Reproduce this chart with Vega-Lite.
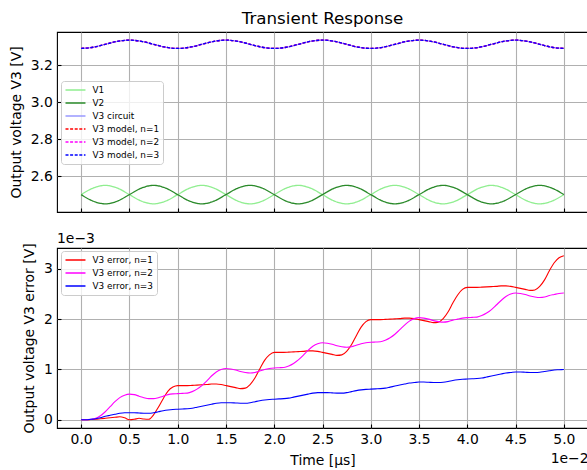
{
  "$schema": "https://vega.github.io/schema/vega-lite/v6.json",
  "padding": {"left": 8, "top": 10, "right": 0, "bottom": 0},
  "spacing": 17,
  "resolve": {
    "scale": {"color": "independent", "strokeDash": "independent"},
    "legend": {"color": "independent", "strokeDash": "independent"}
  },
  "datasets": {
    "volt": [
      {"s":"V1","t":0,"v":2.5},{"s":"V1","t":0.125,"v":2.5354},{"s":"V1","t":0.25,"v":2.55},{"s":"V1","t":0.375,"v":2.5354},{"s":"V1","t":0.5,"v":2.5},{"s":"V1","t":0.625,"v":2.4646},{"s":"V1","t":0.75,"v":2.45},{"s":"V1","t":0.875,"v":2.4646},
      {"s":"V1","t":1,"v":2.5},{"s":"V1","t":1.125,"v":2.5354},{"s":"V1","t":1.25,"v":2.55},{"s":"V1","t":1.375,"v":2.5354},{"s":"V1","t":1.5,"v":2.5},{"s":"V1","t":1.625,"v":2.4646},{"s":"V1","t":1.75,"v":2.45},{"s":"V1","t":1.875,"v":2.4646},
      {"s":"V1","t":2,"v":2.5},{"s":"V1","t":2.125,"v":2.5354},{"s":"V1","t":2.25,"v":2.55},{"s":"V1","t":2.375,"v":2.5354},{"s":"V1","t":2.5,"v":2.5},{"s":"V1","t":2.625,"v":2.4646},{"s":"V1","t":2.75,"v":2.45},{"s":"V1","t":2.875,"v":2.4646},
      {"s":"V1","t":3,"v":2.5},{"s":"V1","t":3.125,"v":2.5354},{"s":"V1","t":3.25,"v":2.55},{"s":"V1","t":3.375,"v":2.5354},{"s":"V1","t":3.5,"v":2.5},{"s":"V1","t":3.625,"v":2.4646},{"s":"V1","t":3.75,"v":2.45},{"s":"V1","t":3.875,"v":2.4646},
      {"s":"V1","t":4,"v":2.5},{"s":"V1","t":4.125,"v":2.5354},{"s":"V1","t":4.25,"v":2.55},{"s":"V1","t":4.375,"v":2.5354},{"s":"V1","t":4.5,"v":2.5},{"s":"V1","t":4.625,"v":2.4646},{"s":"V1","t":4.75,"v":2.45},{"s":"V1","t":4.875,"v":2.4646},
      {"s":"V1","t":5,"v":2.5},
      {"s":"V2","t":0,"v":2.5},{"s":"V2","t":0.125,"v":2.4646},{"s":"V2","t":0.25,"v":2.45},{"s":"V2","t":0.375,"v":2.4646},{"s":"V2","t":0.5,"v":2.5},{"s":"V2","t":0.625,"v":2.5354},{"s":"V2","t":0.75,"v":2.55},{"s":"V2","t":0.875,"v":2.5354},
      {"s":"V2","t":1,"v":2.5},{"s":"V2","t":1.125,"v":2.4646},{"s":"V2","t":1.25,"v":2.45},{"s":"V2","t":1.375,"v":2.4646},{"s":"V2","t":1.5,"v":2.5},{"s":"V2","t":1.625,"v":2.5354},{"s":"V2","t":1.75,"v":2.55},{"s":"V2","t":1.875,"v":2.5354},
      {"s":"V2","t":2,"v":2.5},{"s":"V2","t":2.125,"v":2.4646},{"s":"V2","t":2.25,"v":2.45},{"s":"V2","t":2.375,"v":2.4646},{"s":"V2","t":2.5,"v":2.5},{"s":"V2","t":2.625,"v":2.5354},{"s":"V2","t":2.75,"v":2.55},{"s":"V2","t":2.875,"v":2.5354},
      {"s":"V2","t":3,"v":2.5},{"s":"V2","t":3.125,"v":2.4646},{"s":"V2","t":3.25,"v":2.45},{"s":"V2","t":3.375,"v":2.4646},{"s":"V2","t":3.5,"v":2.5},{"s":"V2","t":3.625,"v":2.5354},{"s":"V2","t":3.75,"v":2.55},{"s":"V2","t":3.875,"v":2.5354},
      {"s":"V2","t":4,"v":2.5},{"s":"V2","t":4.125,"v":2.4646},{"s":"V2","t":4.25,"v":2.45},{"s":"V2","t":4.375,"v":2.4646},{"s":"V2","t":4.5,"v":2.5},{"s":"V2","t":4.625,"v":2.5354},{"s":"V2","t":4.75,"v":2.55},{"s":"V2","t":4.875,"v":2.5354},
      {"s":"V2","t":5,"v":2.5},
      {"s":"V3 circuit","t":0,"v":3.29},{"s":"V3 circuit","t":0.125,"v":3.2966},{"s":"V3 circuit","t":0.25,"v":3.3125},{"s":"V3 circuit","t":0.375,"v":3.3284},{"s":"V3 circuit","t":0.5,"v":3.335},{"s":"V3 circuit","t":0.625,"v":3.3284},{"s":"V3 circuit","t":0.75,"v":3.3125},{"s":"V3 circuit","t":0.875,"v":3.2966},
      {"s":"V3 circuit","t":1,"v":3.29},{"s":"V3 circuit","t":1.125,"v":3.2966},{"s":"V3 circuit","t":1.25,"v":3.3125},{"s":"V3 circuit","t":1.375,"v":3.3284},{"s":"V3 circuit","t":1.5,"v":3.335},{"s":"V3 circuit","t":1.625,"v":3.3284},{"s":"V3 circuit","t":1.75,"v":3.3125},{"s":"V3 circuit","t":1.875,"v":3.2966},
      {"s":"V3 circuit","t":2,"v":3.29},{"s":"V3 circuit","t":2.125,"v":3.2966},{"s":"V3 circuit","t":2.25,"v":3.3125},{"s":"V3 circuit","t":2.375,"v":3.3284},{"s":"V3 circuit","t":2.5,"v":3.335},{"s":"V3 circuit","t":2.625,"v":3.3284},{"s":"V3 circuit","t":2.75,"v":3.3125},{"s":"V3 circuit","t":2.875,"v":3.2966},
      {"s":"V3 circuit","t":3,"v":3.29},{"s":"V3 circuit","t":3.125,"v":3.2966},{"s":"V3 circuit","t":3.25,"v":3.3125},{"s":"V3 circuit","t":3.375,"v":3.3284},{"s":"V3 circuit","t":3.5,"v":3.335},{"s":"V3 circuit","t":3.625,"v":3.3284},{"s":"V3 circuit","t":3.75,"v":3.3125},{"s":"V3 circuit","t":3.875,"v":3.2966},
      {"s":"V3 circuit","t":4,"v":3.29},{"s":"V3 circuit","t":4.125,"v":3.2966},{"s":"V3 circuit","t":4.25,"v":3.3125},{"s":"V3 circuit","t":4.375,"v":3.3284},{"s":"V3 circuit","t":4.5,"v":3.335},{"s":"V3 circuit","t":4.625,"v":3.3284},{"s":"V3 circuit","t":4.75,"v":3.3125},{"s":"V3 circuit","t":4.875,"v":3.2966},
      {"s":"V3 circuit","t":5,"v":3.29},
      {"s":"V3 model, n=1","t":0,"v":3.29},{"s":"V3 model, n=1","t":0.125,"v":3.2966},{"s":"V3 model, n=1","t":0.25,"v":3.3125},{"s":"V3 model, n=1","t":0.375,"v":3.3284},{"s":"V3 model, n=1","t":0.5,"v":3.335},{"s":"V3 model, n=1","t":0.625,"v":3.3284},{"s":"V3 model, n=1","t":0.75,"v":3.3125},{"s":"V3 model, n=1","t":0.875,"v":3.2966},
      {"s":"V3 model, n=1","t":1,"v":3.29},{"s":"V3 model, n=1","t":1.125,"v":3.2966},{"s":"V3 model, n=1","t":1.25,"v":3.3125},{"s":"V3 model, n=1","t":1.375,"v":3.3284},{"s":"V3 model, n=1","t":1.5,"v":3.335},{"s":"V3 model, n=1","t":1.625,"v":3.3284},{"s":"V3 model, n=1","t":1.75,"v":3.3125},{"s":"V3 model, n=1","t":1.875,"v":3.2966},
      {"s":"V3 model, n=1","t":2,"v":3.29},{"s":"V3 model, n=1","t":2.125,"v":3.2966},{"s":"V3 model, n=1","t":2.25,"v":3.3125},{"s":"V3 model, n=1","t":2.375,"v":3.3284},{"s":"V3 model, n=1","t":2.5,"v":3.335},{"s":"V3 model, n=1","t":2.625,"v":3.3284},{"s":"V3 model, n=1","t":2.75,"v":3.3125},{"s":"V3 model, n=1","t":2.875,"v":3.2966},
      {"s":"V3 model, n=1","t":3,"v":3.29},{"s":"V3 model, n=1","t":3.125,"v":3.2966},{"s":"V3 model, n=1","t":3.25,"v":3.3125},{"s":"V3 model, n=1","t":3.375,"v":3.3284},{"s":"V3 model, n=1","t":3.5,"v":3.335},{"s":"V3 model, n=1","t":3.625,"v":3.3284},{"s":"V3 model, n=1","t":3.75,"v":3.3125},{"s":"V3 model, n=1","t":3.875,"v":3.2966},
      {"s":"V3 model, n=1","t":4,"v":3.29},{"s":"V3 model, n=1","t":4.125,"v":3.2966},{"s":"V3 model, n=1","t":4.25,"v":3.3125},{"s":"V3 model, n=1","t":4.375,"v":3.3284},{"s":"V3 model, n=1","t":4.5,"v":3.335},{"s":"V3 model, n=1","t":4.625,"v":3.3284},{"s":"V3 model, n=1","t":4.75,"v":3.3125},{"s":"V3 model, n=1","t":4.875,"v":3.2966},
      {"s":"V3 model, n=1","t":5,"v":3.29},
      {"s":"V3 model, n=2","t":0,"v":3.29},{"s":"V3 model, n=2","t":0.125,"v":3.2966},{"s":"V3 model, n=2","t":0.25,"v":3.3125},{"s":"V3 model, n=2","t":0.375,"v":3.3284},{"s":"V3 model, n=2","t":0.5,"v":3.335},{"s":"V3 model, n=2","t":0.625,"v":3.3284},{"s":"V3 model, n=2","t":0.75,"v":3.3125},{"s":"V3 model, n=2","t":0.875,"v":3.2966},
      {"s":"V3 model, n=2","t":1,"v":3.29},{"s":"V3 model, n=2","t":1.125,"v":3.2966},{"s":"V3 model, n=2","t":1.25,"v":3.3125},{"s":"V3 model, n=2","t":1.375,"v":3.3284},{"s":"V3 model, n=2","t":1.5,"v":3.335},{"s":"V3 model, n=2","t":1.625,"v":3.3284},{"s":"V3 model, n=2","t":1.75,"v":3.3125},{"s":"V3 model, n=2","t":1.875,"v":3.2966},
      {"s":"V3 model, n=2","t":2,"v":3.29},{"s":"V3 model, n=2","t":2.125,"v":3.2966},{"s":"V3 model, n=2","t":2.25,"v":3.3125},{"s":"V3 model, n=2","t":2.375,"v":3.3284},{"s":"V3 model, n=2","t":2.5,"v":3.335},{"s":"V3 model, n=2","t":2.625,"v":3.3284},{"s":"V3 model, n=2","t":2.75,"v":3.3125},{"s":"V3 model, n=2","t":2.875,"v":3.2966},
      {"s":"V3 model, n=2","t":3,"v":3.29},{"s":"V3 model, n=2","t":3.125,"v":3.2966},{"s":"V3 model, n=2","t":3.25,"v":3.3125},{"s":"V3 model, n=2","t":3.375,"v":3.3284},{"s":"V3 model, n=2","t":3.5,"v":3.335},{"s":"V3 model, n=2","t":3.625,"v":3.3284},{"s":"V3 model, n=2","t":3.75,"v":3.3125},{"s":"V3 model, n=2","t":3.875,"v":3.2966},
      {"s":"V3 model, n=2","t":4,"v":3.29},{"s":"V3 model, n=2","t":4.125,"v":3.2966},{"s":"V3 model, n=2","t":4.25,"v":3.3125},{"s":"V3 model, n=2","t":4.375,"v":3.3284},{"s":"V3 model, n=2","t":4.5,"v":3.335},{"s":"V3 model, n=2","t":4.625,"v":3.3284},{"s":"V3 model, n=2","t":4.75,"v":3.3125},{"s":"V3 model, n=2","t":4.875,"v":3.2966},
      {"s":"V3 model, n=2","t":5,"v":3.29},
      {"s":"V3 model, n=3","t":0,"v":3.29},{"s":"V3 model, n=3","t":0.125,"v":3.2966},{"s":"V3 model, n=3","t":0.25,"v":3.3125},{"s":"V3 model, n=3","t":0.375,"v":3.3284},{"s":"V3 model, n=3","t":0.5,"v":3.335},{"s":"V3 model, n=3","t":0.625,"v":3.3284},{"s":"V3 model, n=3","t":0.75,"v":3.3125},{"s":"V3 model, n=3","t":0.875,"v":3.2966},
      {"s":"V3 model, n=3","t":1,"v":3.29},{"s":"V3 model, n=3","t":1.125,"v":3.2966},{"s":"V3 model, n=3","t":1.25,"v":3.3125},{"s":"V3 model, n=3","t":1.375,"v":3.3284},{"s":"V3 model, n=3","t":1.5,"v":3.335},{"s":"V3 model, n=3","t":1.625,"v":3.3284},{"s":"V3 model, n=3","t":1.75,"v":3.3125},{"s":"V3 model, n=3","t":1.875,"v":3.2966},
      {"s":"V3 model, n=3","t":2,"v":3.29},{"s":"V3 model, n=3","t":2.125,"v":3.2966},{"s":"V3 model, n=3","t":2.25,"v":3.3125},{"s":"V3 model, n=3","t":2.375,"v":3.3284},{"s":"V3 model, n=3","t":2.5,"v":3.335},{"s":"V3 model, n=3","t":2.625,"v":3.3284},{"s":"V3 model, n=3","t":2.75,"v":3.3125},{"s":"V3 model, n=3","t":2.875,"v":3.2966},
      {"s":"V3 model, n=3","t":3,"v":3.29},{"s":"V3 model, n=3","t":3.125,"v":3.2966},{"s":"V3 model, n=3","t":3.25,"v":3.3125},{"s":"V3 model, n=3","t":3.375,"v":3.3284},{"s":"V3 model, n=3","t":3.5,"v":3.335},{"s":"V3 model, n=3","t":3.625,"v":3.3284},{"s":"V3 model, n=3","t":3.75,"v":3.3125},{"s":"V3 model, n=3","t":3.875,"v":3.2966},
      {"s":"V3 model, n=3","t":4,"v":3.29},{"s":"V3 model, n=3","t":4.125,"v":3.2966},{"s":"V3 model, n=3","t":4.25,"v":3.3125},{"s":"V3 model, n=3","t":4.375,"v":3.3284},{"s":"V3 model, n=3","t":4.5,"v":3.335},{"s":"V3 model, n=3","t":4.625,"v":3.3284},{"s":"V3 model, n=3","t":4.75,"v":3.3125},{"s":"V3 model, n=3","t":4.875,"v":3.2966},
      {"s":"V3 model, n=3","t":5,"v":3.29}
    ],
    "err": [
      {"s":"V3 error, n=1","t":0,"v":0},{"s":"V3 error, n=1","t":0.05,"v":0},{"s":"V3 error, n=1","t":0.1,"v":0.005},{"s":"V3 error, n=1","t":0.15,"v":0.01},{"s":"V3 error, n=1","t":0.2,"v":0.02},{"s":"V3 error, n=1","t":0.25,"v":0.03},{"s":"V3 error, n=1","t":0.3,"v":0.04},{"s":"V3 error, n=1","t":0.35,"v":0.05},{"s":"V3 error, n=1","t":0.4,"v":0.06},{"s":"V3 error, n=1","t":0.45,"v":0.04},
      {"s":"V3 error, n=1","t":0.5,"v":0},{"s":"V3 error, n=1","t":0.55,"v":0.01},{"s":"V3 error, n=1","t":0.6,"v":0.03},{"s":"V3 error, n=1","t":0.65,"v":0.015},{"s":"V3 error, n=1","t":0.7,"v":0.01},{"s":"V3 error, n=1","t":0.75,"v":0.1},{"s":"V3 error, n=1","t":0.8,"v":0.25},{"s":"V3 error, n=1","t":0.85,"v":0.42},{"s":"V3 error, n=1","t":0.9,"v":0.57},{"s":"V3 error, n=1","t":0.95,"v":0.65},
      {"s":"V3 error, n=1","t":1,"v":0.68},{"s":"V3 error, n=1","t":1.05,"v":0.68},{"s":"V3 error, n=1","t":1.1,"v":0.68},{"s":"V3 error, n=1","t":1.15,"v":0.685},{"s":"V3 error, n=1","t":1.2,"v":0.69},{"s":"V3 error, n=1","t":1.25,"v":0.695},{"s":"V3 error, n=1","t":1.3,"v":0.7},{"s":"V3 error, n=1","t":1.35,"v":0.71},{"s":"V3 error, n=1","t":1.4,"v":0.71},{"s":"V3 error, n=1","t":1.45,"v":0.7},
      {"s":"V3 error, n=1","t":1.5,"v":0.68},{"s":"V3 error, n=1","t":1.55,"v":0.66},{"s":"V3 error, n=1","t":1.6,"v":0.64},{"s":"V3 error, n=1","t":1.65,"v":0.62},{"s":"V3 error, n=1","t":1.7,"v":0.63},{"s":"V3 error, n=1","t":1.75,"v":0.7},{"s":"V3 error, n=1","t":1.8,"v":0.83},{"s":"V3 error, n=1","t":1.85,"v":1.01},{"s":"V3 error, n=1","t":1.9,"v":1.18},{"s":"V3 error, n=1","t":1.95,"v":1.29},
      {"s":"V3 error, n=1","t":2,"v":1.34},{"s":"V3 error, n=1","t":2.05,"v":1.34},{"s":"V3 error, n=1","t":2.1,"v":1.34},{"s":"V3 error, n=1","t":2.15,"v":1.345},{"s":"V3 error, n=1","t":2.2,"v":1.35},{"s":"V3 error, n=1","t":2.25,"v":1.355},{"s":"V3 error, n=1","t":2.3,"v":1.36},{"s":"V3 error, n=1","t":2.35,"v":1.37},{"s":"V3 error, n=1","t":2.4,"v":1.37},{"s":"V3 error, n=1","t":2.45,"v":1.36},
      {"s":"V3 error, n=1","t":2.5,"v":1.34},{"s":"V3 error, n=1","t":2.55,"v":1.32},{"s":"V3 error, n=1","t":2.6,"v":1.3},{"s":"V3 error, n=1","t":2.65,"v":1.28},{"s":"V3 error, n=1","t":2.7,"v":1.29},{"s":"V3 error, n=1","t":2.75,"v":1.36},{"s":"V3 error, n=1","t":2.8,"v":1.49},{"s":"V3 error, n=1","t":2.85,"v":1.67},{"s":"V3 error, n=1","t":2.9,"v":1.84},{"s":"V3 error, n=1","t":2.95,"v":1.95},
      {"s":"V3 error, n=1","t":3,"v":1.99},{"s":"V3 error, n=1","t":3.05,"v":1.99},{"s":"V3 error, n=1","t":3.1,"v":1.99},{"s":"V3 error, n=1","t":3.15,"v":1.995},{"s":"V3 error, n=1","t":3.2,"v":2.0},{"s":"V3 error, n=1","t":3.25,"v":2.005},{"s":"V3 error, n=1","t":3.3,"v":2.01},{"s":"V3 error, n=1","t":3.35,"v":2.02},{"s":"V3 error, n=1","t":3.4,"v":2.02},{"s":"V3 error, n=1","t":3.45,"v":2.01},
      {"s":"V3 error, n=1","t":3.5,"v":1.99},{"s":"V3 error, n=1","t":3.55,"v":1.97},{"s":"V3 error, n=1","t":3.6,"v":1.95},{"s":"V3 error, n=1","t":3.65,"v":1.93},{"s":"V3 error, n=1","t":3.7,"v":1.94},{"s":"V3 error, n=1","t":3.75,"v":2.01},{"s":"V3 error, n=1","t":3.8,"v":2.14},{"s":"V3 error, n=1","t":3.85,"v":2.32},{"s":"V3 error, n=1","t":3.9,"v":2.48},{"s":"V3 error, n=1","t":3.95,"v":2.59},
      {"s":"V3 error, n=1","t":4,"v":2.63},{"s":"V3 error, n=1","t":4.05,"v":2.63},{"s":"V3 error, n=1","t":4.1,"v":2.63},{"s":"V3 error, n=1","t":4.15,"v":2.635},{"s":"V3 error, n=1","t":4.2,"v":2.64},{"s":"V3 error, n=1","t":4.25,"v":2.645},{"s":"V3 error, n=1","t":4.3,"v":2.65},{"s":"V3 error, n=1","t":4.35,"v":2.66},{"s":"V3 error, n=1","t":4.4,"v":2.66},{"s":"V3 error, n=1","t":4.45,"v":2.65},
      {"s":"V3 error, n=1","t":4.5,"v":2.63},{"s":"V3 error, n=1","t":4.55,"v":2.61},{"s":"V3 error, n=1","t":4.6,"v":2.59},{"s":"V3 error, n=1","t":4.65,"v":2.57},{"s":"V3 error, n=1","t":4.7,"v":2.58},{"s":"V3 error, n=1","t":4.75,"v":2.65},{"s":"V3 error, n=1","t":4.8,"v":2.78},{"s":"V3 error, n=1","t":4.85,"v":2.96},{"s":"V3 error, n=1","t":4.9,"v":3.12},{"s":"V3 error, n=1","t":4.95,"v":3.22},
      {"s":"V3 error, n=1","t":5,"v":3.26},
      {"s":"V3 error, n=2","t":0,"v":0},{"s":"V3 error, n=2","t":0.05,"v":0},{"s":"V3 error, n=2","t":0.1,"v":0.01},{"s":"V3 error, n=2","t":0.15,"v":0.03},{"s":"V3 error, n=2","t":0.2,"v":0.08},{"s":"V3 error, n=2","t":0.25,"v":0.16},{"s":"V3 error, n=2","t":0.3,"v":0.26},{"s":"V3 error, n=2","t":0.35,"v":0.36},{"s":"V3 error, n=2","t":0.4,"v":0.44},{"s":"V3 error, n=2","t":0.45,"v":0.49},
      {"s":"V3 error, n=2","t":0.5,"v":0.51},{"s":"V3 error, n=2","t":0.55,"v":0.5},{"s":"V3 error, n=2","t":0.6,"v":0.47},{"s":"V3 error, n=2","t":0.65,"v":0.44},{"s":"V3 error, n=2","t":0.7,"v":0.42},{"s":"V3 error, n=2","t":0.75,"v":0.42},{"s":"V3 error, n=2","t":0.8,"v":0.44},{"s":"V3 error, n=2","t":0.85,"v":0.47},{"s":"V3 error, n=2","t":0.9,"v":0.5},{"s":"V3 error, n=2","t":0.95,"v":0.515},
      {"s":"V3 error, n=2","t":1,"v":0.52},{"s":"V3 error, n=2","t":1.05,"v":0.525},{"s":"V3 error, n=2","t":1.1,"v":0.53},{"s":"V3 error, n=2","t":1.15,"v":0.56},{"s":"V3 error, n=2","t":1.2,"v":0.61},{"s":"V3 error, n=2","t":1.25,"v":0.68},{"s":"V3 error, n=2","t":1.3,"v":0.77},{"s":"V3 error, n=2","t":1.35,"v":0.87},{"s":"V3 error, n=2","t":1.4,"v":0.95},{"s":"V3 error, n=2","t":1.45,"v":1.0},
      {"s":"V3 error, n=2","t":1.5,"v":1.02},{"s":"V3 error, n=2","t":1.55,"v":1.01},{"s":"V3 error, n=2","t":1.6,"v":0.99},{"s":"V3 error, n=2","t":1.65,"v":0.96},{"s":"V3 error, n=2","t":1.7,"v":0.94},{"s":"V3 error, n=2","t":1.75,"v":0.93},{"s":"V3 error, n=2","t":1.8,"v":0.94},{"s":"V3 error, n=2","t":1.85,"v":0.97},{"s":"V3 error, n=2","t":1.9,"v":1.0},{"s":"V3 error, n=2","t":1.95,"v":1.02},
      {"s":"V3 error, n=2","t":2,"v":1.03},{"s":"V3 error, n=2","t":2.05,"v":1.035},{"s":"V3 error, n=2","t":2.1,"v":1.04},{"s":"V3 error, n=2","t":2.15,"v":1.07},{"s":"V3 error, n=2","t":2.2,"v":1.12},{"s":"V3 error, n=2","t":2.25,"v":1.19},{"s":"V3 error, n=2","t":2.3,"v":1.28},{"s":"V3 error, n=2","t":2.35,"v":1.38},{"s":"V3 error, n=2","t":2.4,"v":1.46},{"s":"V3 error, n=2","t":2.45,"v":1.51},
      {"s":"V3 error, n=2","t":2.5,"v":1.53},{"s":"V3 error, n=2","t":2.55,"v":1.52},{"s":"V3 error, n=2","t":2.6,"v":1.5},{"s":"V3 error, n=2","t":2.65,"v":1.47},{"s":"V3 error, n=2","t":2.7,"v":1.45},{"s":"V3 error, n=2","t":2.75,"v":1.44},{"s":"V3 error, n=2","t":2.8,"v":1.45},{"s":"V3 error, n=2","t":2.85,"v":1.48},{"s":"V3 error, n=2","t":2.9,"v":1.51},{"s":"V3 error, n=2","t":2.95,"v":1.53},
      {"s":"V3 error, n=2","t":3,"v":1.54},{"s":"V3 error, n=2","t":3.05,"v":1.545},{"s":"V3 error, n=2","t":3.1,"v":1.55},{"s":"V3 error, n=2","t":3.15,"v":1.58},{"s":"V3 error, n=2","t":3.2,"v":1.63},{"s":"V3 error, n=2","t":3.25,"v":1.7},{"s":"V3 error, n=2","t":3.3,"v":1.79},{"s":"V3 error, n=2","t":3.35,"v":1.88},{"s":"V3 error, n=2","t":3.4,"v":1.96},{"s":"V3 error, n=2","t":3.45,"v":2.01},
      {"s":"V3 error, n=2","t":3.5,"v":2.03},{"s":"V3 error, n=2","t":3.55,"v":2.02},{"s":"V3 error, n=2","t":3.6,"v":2.0},{"s":"V3 error, n=2","t":3.65,"v":1.97},{"s":"V3 error, n=2","t":3.7,"v":1.95},{"s":"V3 error, n=2","t":3.75,"v":1.94},{"s":"V3 error, n=2","t":3.8,"v":1.95},{"s":"V3 error, n=2","t":3.85,"v":1.98},{"s":"V3 error, n=2","t":3.9,"v":2.0},{"s":"V3 error, n=2","t":3.95,"v":2.02},
      {"s":"V3 error, n=2","t":4,"v":2.03},{"s":"V3 error, n=2","t":4.05,"v":2.035},{"s":"V3 error, n=2","t":4.1,"v":2.04},{"s":"V3 error, n=2","t":4.15,"v":2.07},{"s":"V3 error, n=2","t":4.2,"v":2.12},{"s":"V3 error, n=2","t":4.25,"v":2.19},{"s":"V3 error, n=2","t":4.3,"v":2.28},{"s":"V3 error, n=2","t":4.35,"v":2.37},{"s":"V3 error, n=2","t":4.4,"v":2.45},{"s":"V3 error, n=2","t":4.45,"v":2.5},
      {"s":"V3 error, n=2","t":4.5,"v":2.52},{"s":"V3 error, n=2","t":4.55,"v":2.51},{"s":"V3 error, n=2","t":4.6,"v":2.49},{"s":"V3 error, n=2","t":4.65,"v":2.46},{"s":"V3 error, n=2","t":4.7,"v":2.44},{"s":"V3 error, n=2","t":4.75,"v":2.43},{"s":"V3 error, n=2","t":4.8,"v":2.44},{"s":"V3 error, n=2","t":4.85,"v":2.47},{"s":"V3 error, n=2","t":4.9,"v":2.49},{"s":"V3 error, n=2","t":4.95,"v":2.51},
      {"s":"V3 error, n=2","t":5,"v":2.52},
      {"s":"V3 error, n=3","t":0,"v":0},{"s":"V3 error, n=3","t":0.05,"v":0},{"s":"V3 error, n=3","t":0.1,"v":0.01},{"s":"V3 error, n=3","t":0.15,"v":0.02},{"s":"V3 error, n=3","t":0.2,"v":0.04},{"s":"V3 error, n=3","t":0.25,"v":0.07},{"s":"V3 error, n=3","t":0.3,"v":0.09},{"s":"V3 error, n=3","t":0.35,"v":0.11},{"s":"V3 error, n=3","t":0.4,"v":0.13},{"s":"V3 error, n=3","t":0.45,"v":0.14},
      {"s":"V3 error, n=3","t":0.5,"v":0.14},{"s":"V3 error, n=3","t":0.55,"v":0.14},{"s":"V3 error, n=3","t":0.6,"v":0.135},{"s":"V3 error, n=3","t":0.65,"v":0.13},{"s":"V3 error, n=3","t":0.7,"v":0.13},{"s":"V3 error, n=3","t":0.75,"v":0.14},{"s":"V3 error, n=3","t":0.8,"v":0.16},{"s":"V3 error, n=3","t":0.85,"v":0.18},{"s":"V3 error, n=3","t":0.9,"v":0.195},{"s":"V3 error, n=3","t":0.95,"v":0.205},
      {"s":"V3 error, n=3","t":1,"v":0.21},{"s":"V3 error, n=3","t":1.05,"v":0.215},{"s":"V3 error, n=3","t":1.1,"v":0.22},{"s":"V3 error, n=3","t":1.15,"v":0.23},{"s":"V3 error, n=3","t":1.2,"v":0.25},{"s":"V3 error, n=3","t":1.25,"v":0.27},{"s":"V3 error, n=3","t":1.3,"v":0.29},{"s":"V3 error, n=3","t":1.35,"v":0.31},{"s":"V3 error, n=3","t":1.4,"v":0.33},{"s":"V3 error, n=3","t":1.45,"v":0.34},
      {"s":"V3 error, n=3","t":1.5,"v":0.34},{"s":"V3 error, n=3","t":1.55,"v":0.34},{"s":"V3 error, n=3","t":1.6,"v":0.335},{"s":"V3 error, n=3","t":1.65,"v":0.33},{"s":"V3 error, n=3","t":1.7,"v":0.33},{"s":"V3 error, n=3","t":1.75,"v":0.34},{"s":"V3 error, n=3","t":1.8,"v":0.36},{"s":"V3 error, n=3","t":1.85,"v":0.38},{"s":"V3 error, n=3","t":1.9,"v":0.395},{"s":"V3 error, n=3","t":1.95,"v":0.405},
      {"s":"V3 error, n=3","t":2,"v":0.41},{"s":"V3 error, n=3","t":2.05,"v":0.415},{"s":"V3 error, n=3","t":2.1,"v":0.42},{"s":"V3 error, n=3","t":2.15,"v":0.43},{"s":"V3 error, n=3","t":2.2,"v":0.45},{"s":"V3 error, n=3","t":2.25,"v":0.47},{"s":"V3 error, n=3","t":2.3,"v":0.49},{"s":"V3 error, n=3","t":2.35,"v":0.51},{"s":"V3 error, n=3","t":2.4,"v":0.53},{"s":"V3 error, n=3","t":2.45,"v":0.54},
      {"s":"V3 error, n=3","t":2.5,"v":0.54},{"s":"V3 error, n=3","t":2.55,"v":0.54},{"s":"V3 error, n=3","t":2.6,"v":0.535},{"s":"V3 error, n=3","t":2.65,"v":0.53},{"s":"V3 error, n=3","t":2.7,"v":0.53},{"s":"V3 error, n=3","t":2.75,"v":0.54},{"s":"V3 error, n=3","t":2.8,"v":0.56},{"s":"V3 error, n=3","t":2.85,"v":0.58},{"s":"V3 error, n=3","t":2.9,"v":0.595},{"s":"V3 error, n=3","t":2.95,"v":0.605},
      {"s":"V3 error, n=3","t":3,"v":0.61},{"s":"V3 error, n=3","t":3.05,"v":0.615},{"s":"V3 error, n=3","t":3.1,"v":0.62},{"s":"V3 error, n=3","t":3.15,"v":0.63},{"s":"V3 error, n=3","t":3.2,"v":0.65},{"s":"V3 error, n=3","t":3.25,"v":0.67},{"s":"V3 error, n=3","t":3.3,"v":0.69},{"s":"V3 error, n=3","t":3.35,"v":0.71},{"s":"V3 error, n=3","t":3.4,"v":0.73},{"s":"V3 error, n=3","t":3.45,"v":0.74},
      {"s":"V3 error, n=3","t":3.5,"v":0.75},{"s":"V3 error, n=3","t":3.55,"v":0.75},{"s":"V3 error, n=3","t":3.6,"v":0.745},{"s":"V3 error, n=3","t":3.65,"v":0.74},{"s":"V3 error, n=3","t":3.7,"v":0.74},{"s":"V3 error, n=3","t":3.75,"v":0.745},{"s":"V3 error, n=3","t":3.8,"v":0.76},{"s":"V3 error, n=3","t":3.85,"v":0.78},{"s":"V3 error, n=3","t":3.9,"v":0.795},{"s":"V3 error, n=3","t":3.95,"v":0.805},
      {"s":"V3 error, n=3","t":4,"v":0.81},{"s":"V3 error, n=3","t":4.05,"v":0.815},{"s":"V3 error, n=3","t":4.1,"v":0.82},{"s":"V3 error, n=3","t":4.15,"v":0.83},{"s":"V3 error, n=3","t":4.2,"v":0.85},{"s":"V3 error, n=3","t":4.25,"v":0.87},{"s":"V3 error, n=3","t":4.3,"v":0.89},{"s":"V3 error, n=3","t":4.35,"v":0.91},{"s":"V3 error, n=3","t":4.4,"v":0.93},{"s":"V3 error, n=3","t":4.45,"v":0.94},
      {"s":"V3 error, n=3","t":4.5,"v":0.95},{"s":"V3 error, n=3","t":4.55,"v":0.95},{"s":"V3 error, n=3","t":4.6,"v":0.945},{"s":"V3 error, n=3","t":4.65,"v":0.94},{"s":"V3 error, n=3","t":4.7,"v":0.94},{"s":"V3 error, n=3","t":4.75,"v":0.945},{"s":"V3 error, n=3","t":4.8,"v":0.96},{"s":"V3 error, n=3","t":4.85,"v":0.975},{"s":"V3 error, n=3","t":4.9,"v":0.99},{"s":"V3 error, n=3","t":4.95,"v":0.995},
      {"s":"V3 error, n=3","t":5,"v":1.0}
    ]
  },
  "vconcat": [
    {
      "width": 531,
      "height": 180,
      "title": {"text": "Transient Response", "anchor": "middle", "baseline": "alphabetic", "offset": -9},
      "data": {"name": "volt"},
      "mark": {"type": "line", "interpolate": "monotone", "strokeWidth": 1.3},
      "encoding": {
        "x": {
          "field": "t", "type": "quantitative",
          "scale": {"domain": [-0.25, 5.25], "nice": false, "zero": false},
          "axis": {"title": null, "labels": false, "values": [0, 0.5, 1, 1.5, 2, 2.5, 3, 3.5, 4, 4.5, 5]}
        },
        "y": {
          "field": "v", "type": "quantitative",
          "scale": {"domain": [2.406, 3.379], "nice": false, "zero": false},
          "axis": {"title": "Output voltage V3 [V]", "values": [2.6, 2.8, 3.0, 3.2], "format": ".1f"}
        },
        "color": {
          "field": "s", "type": "nominal",
          "scale": {
            "domain": ["V1", "V2", "V3 circuit", "V3 model, n=1", "V3 model, n=2", "V3 model, n=3"],
            "range": ["#90ee90", "#2a8a2a", "#9999ff", "#ff0000", "#ff00ff", "#0000ff"]
          },
          "legend": {"title": null, "orient": "none", "legendX": 4, "legendY": 49}
        },
        "strokeDash": {
          "field": "s", "type": "nominal",
          "scale": {
            "domain": ["V1", "V2", "V3 circuit", "V3 model, n=1", "V3 model, n=2", "V3 model, n=3"],
            "range": [[1, 0], [1, 0], [1, 0], [3, 1.6], [3, 1.6], [3, 1.6]]
          },
          "legend": {"title": null, "orient": "none", "legendX": 4, "legendY": 49}
        }
      }
    },
    {
      "title": {"text": "1e−2", "orient": "bottom", "anchor": "end", "frame": "bounds", "baseline": "alphabetic", "offset": -5, "fontSize": 13.9},
      "vconcat": [
        {
          "width": 531,
          "height": 180,
          "title": {"text": "1e−3", "anchor": "start", "frame": "group", "baseline": "alphabetic", "offset": -14, "fontSize": 13.9},
          "data": {"name": "err"},
          "mark": {"type": "line", "interpolate": "monotone", "strokeWidth": 1.1},
          "encoding": {
            "x": {
              "field": "t", "type": "quantitative",
              "scale": {"domain": [-0.25, 5.25], "nice": false, "zero": false},
              "axis": {"title": "Time [µs]", "values": [0, 0.5, 1, 1.5, 2, 2.5, 3, 3.5, 4, 4.5, 5], "format": ".1f"}
            },
            "y": {
              "field": "v", "type": "quantitative",
              "scale": {"domain": [-0.1625, 3.4125], "nice": false, "zero": false},
              "axis": {"title": "Output voltage V3 error [V]", "values": [0, 1, 2, 3], "format": "d"}
            },
            "color": {
              "field": "s", "type": "nominal",
              "scale": {
                "domain": ["V3 error, n=1", "V3 error, n=2", "V3 error, n=3"],
                "range": ["#ff0000", "#ff00ff", "#0000ff"]
              },
              "legend": {"title": null, "orient": "none", "legendX": 4, "legendY": 3}
            }
          }
        }
      ]
    }
  ],
  "config": {
    "font": "DejaVu Sans",
    "view": {"stroke": "black", "strokeWidth": 1.1},
    "title": {"fontSize": 16.7, "fontWeight": "normal", "color": "black"},
    "axis": {
      "domain": false,
      "grid": true,
      "gridColor": "#b0b0b0",
      "gridWidth": 1.1,
      "ticks": true,
      "tickColor": "black",
      "tickSize": -4,
      "tickWidth": 1.1,
      "labelFontSize": 13.9,
      "labelColor": "black",
      "labelFlush": false,
      "labelOverlap": false,
      "titleFontSize": 13.9,
      "titleFontWeight": "normal",
      "titleColor": "black"
    },
    "axisX": {"labelPadding": 8, "titlePadding": 8},
    "axisY": {"labelPadding": 8.7, "titlePadding": 7},
    "legend": {
      "labelFontSize": 8.9,
      "labelColor": "black",
      "symbolType": "M-1,0H3.44",
      "symbolSize": 81,
      "symbolStrokeWidth": 1.5,
      "labelOffset": 17,
      "rowPadding": 2,
      "padding": 3.5,
      "fillColor": "rgba(255,255,255,0.8)",
      "strokeColor": "#cccccc",
      "cornerRadius": 3
    }
  }
}
